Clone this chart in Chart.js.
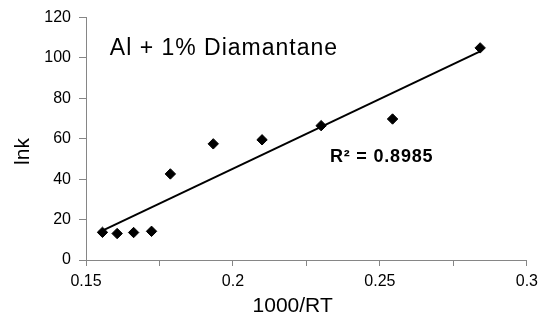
<!DOCTYPE html>
<html>
<head>
<meta charset="utf-8">
<script src="https://cdn.jsdelivr.net/npm/chart.js@4"></script>
<style>
  html, body { margin: 0; padding: 0; background: #fff; }
  #chart { display: block; }
</style>
</head>
<body>
<canvas id="chart" width="544" height="328"></canvas>
<script>
// ---------- Data ----------
const xValues = [0.1556, 0.1606, 0.1662, 0.1723, 0.1787, 0.1933, 0.2099, 0.2300, 0.2543, 0.2841];
const yValues = [13.7, 13.1, 13.6, 14.2, 42.6, 57.5, 59.5, 66.5, 69.8, 105.0];

// trend line ends (linear fit as drawn)
const trendX = [0.1556, 0.2841];
const trendY = [14.5, 103.3];

const xTickLabels = ['0.15', '0.2', '0.25', '0.3'];
const yTickLabels = ['0', '20', '40', '60', '80', '100', '120'];

const chartTitle = 'Al + 1% Diamantane';
const r2Text = 'R² = 0.8985';
const xTitle = '1000/RT';
const yTitle = 'lnk';

// ---------- Helpers ----------
const FONT = '"Liberation Sans", Arial, sans-serif';
const AXIS_GREY = '#868686';

function xLabel(v) {
  // only every other tick gets a label
  const k = Math.round((v - 0.15) / 0.05 * 1000) / 1000;
  if (Math.abs(k - Math.round(k)) > 1e-6) return '';
  return xTickLabels[Math.round(k)] || '';
}

// texts placed in data coordinates
const textPlugin = {
  id: 'texts',
  afterDraw(chart) {
    const { ctx, scales, chartArea } = chart;
    const xs = scales.x, ys = scales.y;
    ctx.save();
    ctx.fillStyle = '#000';
    ctx.textBaseline = 'alphabetic';
    ctx.textAlign = 'left';

    ctx.font = '23px ' + FONT;
    ctx.letterSpacing = '1px';
    ctx.fillText(chartTitle, xs.getPixelForValue(0.1581), ys.getPixelForValue(101.3));

    ctx.font = 'bold 18px ' + FONT;
    ctx.letterSpacing = '0.8px';
    ctx.fillText(r2Text, xs.getPixelForValue(0.2330), ys.getPixelForValue(48.7));

    // axis titles
    ctx.letterSpacing = '0px';
    ctx.font = '21px ' + FONT;
    ctx.textAlign = 'center';
    ctx.fillText(xTitle, xs.getPixelForValue(0.2203), chartArea.bottom + 52);

    ctx.translate(chartArea.left - 57, ys.getPixelForValue(53.7));
    ctx.rotate(-Math.PI / 2);
    ctx.fillText(yTitle, 0, 0);
    ctx.restore();
  }
};

// ---------- Chart ----------
const ctx = document.getElementById('chart').getContext('2d');

new Chart(ctx, {
  type: 'scatter',
  data: {
    datasets: [
      {
        label: 'lnk',
        data: xValues.map((x, i) => ({ x: x, y: yValues[i] })),
        pointStyle: 'rectRot',
        pointRadius: 5.2,
        pointBorderWidth: 1,
        backgroundColor: '#000',
        borderColor: '#000',
        order: 1
      },
      {
        label: 'trend',
        data: trendX.map((x, i) => ({ x: x, y: trendY[i] })),
        showLine: true,
        pointRadius: 0,
        borderColor: '#000',
        borderWidth: 2,
        order: 2
      }
    ]
  },
  options: {
    responsive: false,
    animation: false,
    events: [],
    layout: { padding: { top: 12.7, right: 10.9, left: 0, bottom: 0 } },
    plugins: {
      legend: { display: false },
      tooltip: { enabled: false }
    },
    scales: {
      x: {
        type: 'linear',
        min: 0.15,
        max: 0.3,
        afterFit: s => { s.height = 68; },
        afterBuildTicks: s => {
          s.ticks = [0, 1, 2, 3, 4, 5, 6].map(i => ({ value: 0.15 + i * 0.025 }));
        },
        ticks: {
          autoSkip: false,
          maxRotation: 0,
          padding: 6,
          color: '#000',
          font: { family: FONT, size: 16 },
          callback: v => xLabel(v)
        },
        grid: { drawOnChartArea: false, tickLength: 6, color: AXIS_GREY },
        border: { color: AXIS_GREY, width: 1 }
      },
      y: {
        min: 0,
        max: 120,
        afterFit: s => { s.width = 86; },
        ticks: {
          stepSize: 20,
          padding: 8,
          color: '#000',
          font: { family: FONT, size: 16 },
          callback: (v, i) => yTickLabels[i]
        },
        grid: { drawOnChartArea: false, tickLength: 7, color: AXIS_GREY },
        border: { color: AXIS_GREY, width: 1 }
      }
    }
  },
  plugins: [textPlugin]
});
</script>
</body>
</html>
